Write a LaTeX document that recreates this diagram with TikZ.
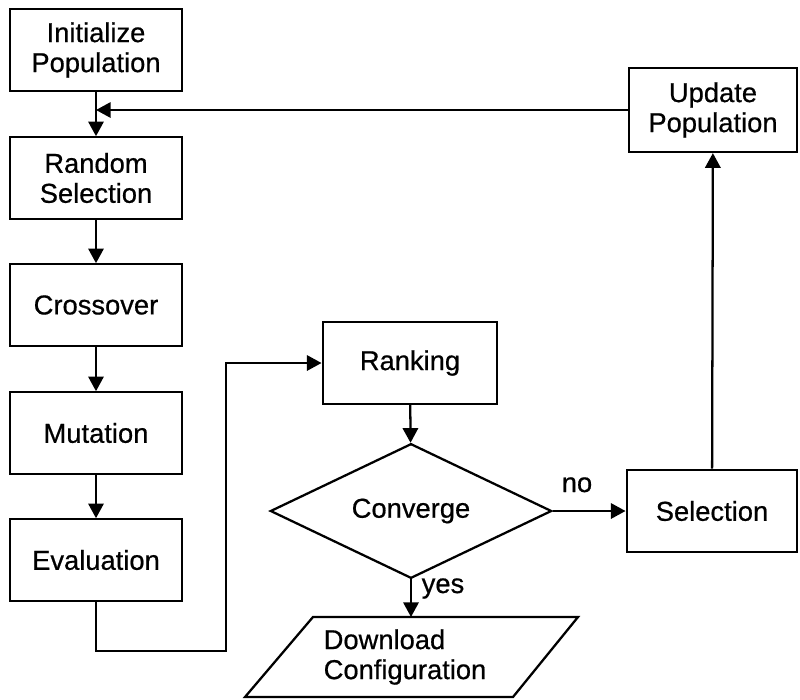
\documentclass[tikz,border=0pt]{standalone}
\usepackage{fontspec}
\setmainfont{Liberation Sans}
\newfontfamily\diagfont[FakeBold=0.6]{Liberation Sans}
\usetikzlibrary{shapes.geometric,arrows.meta}
\begin{document}
\begin{tikzpicture}[x=0.75pt,y=-0.75pt,
  txt/.style={font=\diagfont\fontsize{20.5}{22.5}\selectfont},
  box/.style={draw,line width=1.7pt,minimum width=129pt,minimum height=61pt,align=center,inner sep=0pt,txt},
  dia/.style={draw,diamond,aspect=2.08,line width=1.7pt,minimum width=211pt,minimum height=101pt,inner sep=0pt,txt},
  arr/.style={line width=1.7pt,-{Triangle[length=11pt,width=11.5pt]}},
  lbl/.style={txt,inner sep=0pt}]
\useasboundingbox (0,0) rectangle (800,700);
\node[box] (init) at (96,50) {Initialize\\Population};
\node[box] (rand) at (96,178) {Random\\Selection};
\node[box] (cross) at (96,305) {Crossover};
\node[box] (mut) at (96,433) {Mutation};
\node[box] (eval) at (96,560) {Evaluation};
\node[box,minimum width=131pt] (rank) at (410,363) {Ranking};
\node[dia] (conv) at (411,511) {Converge};
\node[box,minimum width=128pt,minimum height=62pt] (sel) at (712,511) {Selection};
\node[box,minimum width=126pt,minimum height=63pt] (upd) at (713,110) {Update\\Population};
\draw[line width=1.7pt,line join=miter] (313,617) -- (578,617) -- (513,697) -- (245,697) -- cycle;
\node[lbl,align=left] (dl) at (405,657) {Download\\Configuration};
\coordinate (c1) at (226,651);
\coordinate (dltop) at (411,617);
\draw[arr] (init) -- (rand);
\draw[arr] (rand) -- (cross);
\draw[arr] (cross) -- (mut);
\draw[arr] (mut) -- (eval);
\draw[arr] (upd.west) -- (upd.west -| init.south);
\draw[arr,line join=miter] (eval.south) |- (c1) |- (rank.west);
\draw[arr] (rank) -- (conv);
\draw[arr] (conv.east) -- (sel.west);
\draw[arr] (sel) -- (upd);
\draw[arr] (conv.south) -- (dltop);
\node[lbl,anchor=base] (no) at (577,492) {no};
\node[lbl,anchor=base] (yes) at (443,593) {yes};
\end{tikzpicture}
\end{document}
